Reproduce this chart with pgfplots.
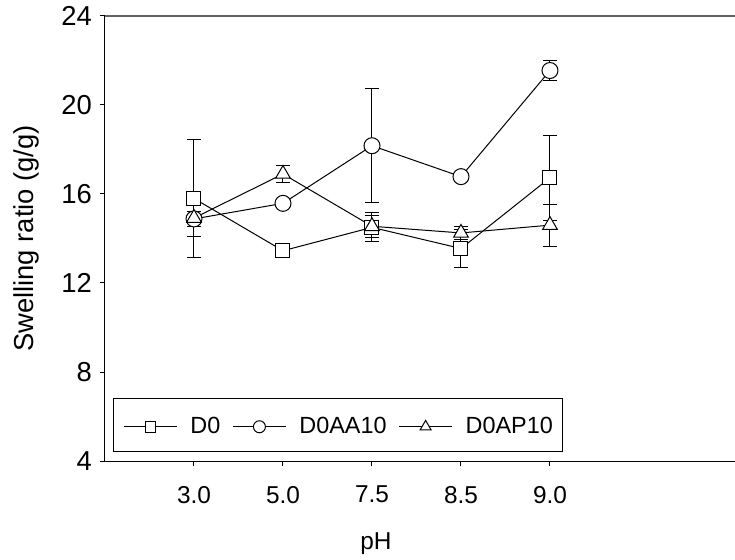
\documentclass[border=0pt]{standalone}
\usepackage{pgfplots}
\pgfplotsset{compat=1.18}
\usepackage{fontspec}
\setmainfont{Liberation Sans}

\begin{document}
\begin{tikzpicture}
\begin{axis}[
  scale only axis, width=630bp, height=445bp,
  at={(0,0)}, anchor=south west,
  xmin=-1, xmax=6.079, ymin=4, ymax=24,
  axis x line*=bottom, axis y line*=left,
  axis line style={-, black, line width=1bp},
  xtick={0,1,2,3,4}, xticklabels={3.0,5.0,7.5,8.5,9.0},
  ytick={4,8,12,16,20,24},
  minor tick num=0,
  tick align=outside, major tick length=5bp,
  tick style={black, line width=1bp},
  /pgf/number format/assume math mode=true,
  xticklabel style={font=\fontsize{24.5}{28}\selectfont, anchor=north, inner sep=0pt, yshift=-20bp},
  yticklabel style={font=\fontsize{27.5}{31}\selectfont, anchor=east, inner sep=0pt, xshift=-8bp},
  xlabel={pH},
  xlabel style={at={(rel axis cs:0.430,0)}, anchor=north, inner sep=0pt, yshift=-72bp, font=\fontsize{24.5}{28}\selectfont},
  ylabel={Swelling ratio (g/g)},
  ylabel style={at={(rel axis cs:0,0.5)}, anchor=north, inner sep=0pt, yshift=92bp, font=\fontsize{27.5}{31}\selectfont},
  every axis plot/.append style={black, line width=1bp},
  error bars/error bar style={black, line width=1bp},
  error bars/error mark options={rotate=90, black, line width=1bp, mark size=7bp},
  legend columns=3,
  legend style={at={(rel axis cs:0.0127,0.0202)}, anchor=south west,
    draw=black, line width=1bp, font=\fontsize{23.5}{27}\selectfont,
    nodes={inner sep=0pt, text height=16.5bp, text depth=0bp},
    inner xsep=10bp, inner ysep=18.5bp,
    /tikz/every odd column/.append style={column sep=13bp},
    /tikz/every even column/.append style={column sep=12bp}},
  legend image code/.code={%
    \draw[mark repeat=2, mark phase=2, every mark/.append style={scale=0.75}, #1]
      plot coordinates {(0bp,-2bp) (26.5bp,-2bp) (53bp,-2bp)};},
]
\addplot[mark=square*, mark size=7bp, mark options={fill=white, solid},
  error bars/.cd, y dir=both, y explicit]
  coordinates {
    (0,15.80) +- (0,2.65)
    (1,13.45) +- (0,0.20)
    (2,14.50) +- (0,0.65)
    (3,13.55) +- (0,0.87)
    (4,16.73) +- (0,1.90)
  };
\addlegendentry{D0}
\addplot[mark=*, mark size=8bp, mark options={fill=white, solid},
  error bars/.cd, y dir=both, y explicit]
  coordinates {
    (0,14.88) +- (0,0.35)
    (1,15.58) +- (0,0.20)
    (2,18.17) +- (0,2.57)
    (3,16.78) +- (0,0.20)
    (4,21.55) +- (0,0.43)
  };
\addlegendentry{D0AA10}
\addplot[mark=triangle*, mark size=8.5bp, mark options={fill=white, solid},
  error bars/.cd, y dir=both, y explicit]
  coordinates {
    (0,14.92) +- (0,0.85)
    (1,16.90) +- (0,0.37)
    (2,14.55) +- (0,0.50)
    (3,14.25) +- (0,0.30)
    (4,14.60) +- (0,0.95)
  };
\addlegendentry{D0AP10}
\draw[color=black!62, line width=2bp] (rel axis cs:0,1) -- (rel axis cs:1,1);
\end{axis}
\pgfresetboundingbox
\path (-105bp,-99bp) rectangle (630bp,461bp);
\end{tikzpicture}
\end{document}
